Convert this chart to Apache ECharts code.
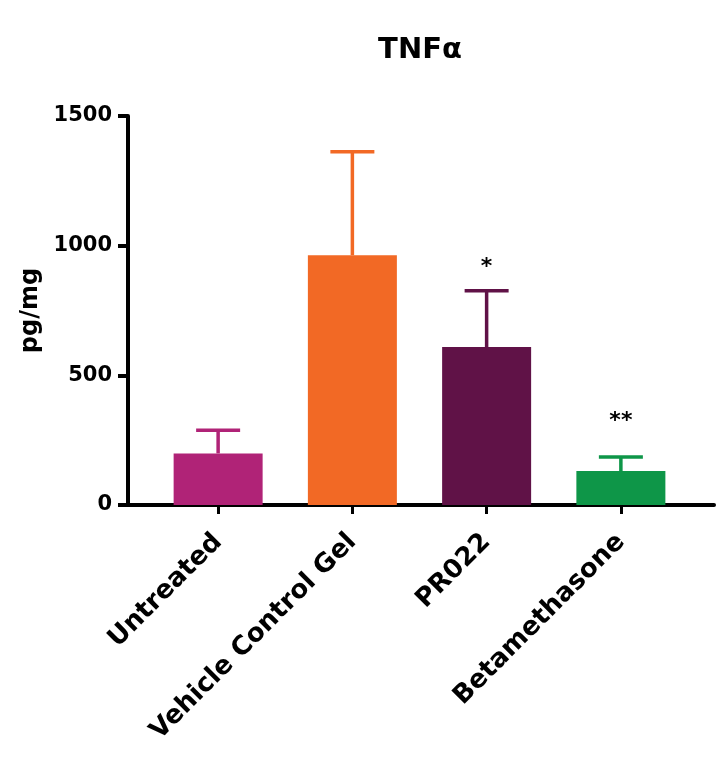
<!DOCTYPE html>
<html>
<head>
<meta charset="utf-8">
<script src="https://cdn.jsdelivr.net/npm/echarts@6/dist/echarts.min.js"></script>
<style>
html,body{margin:0;padding:0;background:#fff;}
#chart{width:728px;height:767px;}
</style>
</head>
<body>
<div id="chart"></div>
<script>
// ---- data ----
const categories = ['Untreated', 'Vehicle Control Gel', 'PR022', 'Betamethasone'];
const means = [199, 963, 609, 131];
const errors = [89, 399, 217, 54];
const sigLabels = ['', '', '*', '**'];
const sigLevels = [0, 0, 918, 321];
const barColors = ['#B02377', '#F26925', '#601247', '#0E9648'];
const yTicks = [0, 500, 1000, 1500];

const FONT = 'DejaVu Sans';
const chart = echarts.init(document.getElementById('chart'), null, {renderer: 'canvas'});

const option = {
  animation: false,
  backgroundColor: '#ffffff',
  title: {
    text: 'TNFα',
    left: 415,
    top: 31,
    textAlign: 'center',
    textStyle: {fontFamily: FONT, fontWeight: 'bold', fontSize: 29, color: '#000'}
  },
  grid: [
    {left: 151, right: 40, top: 116, bottom: 262, containLabel: false},
    {left: 128, right: 14, top: 116, bottom: 262, containLabel: false}
  ],
  xAxis: [
    {
      type: 'category', gridIndex: 0, data: categories,
      axisLine: {show: false},
      axisTick: {show: true, alignWithLabel: true, length: 9, lineStyle: {color: '#000', width: 3}},
      axisLabel: {
        rotate: 45, interval: 0, margin: 33, color: '#000',
        fontFamily: FONT, fontWeight: 'bold', fontSize: 26
      }
    },
    {
      type: 'value', gridIndex: 1, min: 0, max: 1,
      axisLine: {show: true, lineStyle: {color: '#000', width: 4}},
      axisTick: {show: false}, axisLabel: {show: false}, splitLine: {show: false}
    }
  ],
  yAxis: [
    {
      type: 'value', gridIndex: 0, min: yTicks[0], max: yTicks[yTicks.length - 1], interval: 500,
      offset: 23,
      name: 'pg/mg', nameLocation: 'middle', nameGap: 85, nameRotate: 90,
      nameTextStyle: {fontFamily: FONT, fontWeight: 'bold', fontSize: 24, color: '#000'},
      axisLine: {show: true, onZero: false, lineStyle: {color: '#000', width: 4}},
      axisTick: {show: true, length: 10, lineStyle: {color: '#000', width: 4}},
      axisLabel: {margin: 16, color: '#000', fontFamily: FONT, fontWeight: 'bold', fontSize: 21,
                  formatter: function (v) { return String(v); }},
      splitLine: {show: false}
    },
    {
      type: 'value', gridIndex: 1, min: 0, max: 1500, show: false
    }
  ],
  series: [
    {
      type: 'bar', xAxisIndex: 0, yAxisIndex: 0,
      barWidth: 89,
      data: means.map((v, i) => ({value: v, itemStyle: {color: barColors[i]}})),
      z: 3
    },
    {
      type: 'custom', xAxisIndex: 0, yAxisIndex: 0,
      data: means.map((v, i) => [i, v, v + errors[i]]),
      renderItem: function (params, api) {
        const i = api.value(0);
        const base = api.coord([i, api.value(1)]);
        const top = api.coord([i, api.value(2)]);
        const half = 22;
        const col = barColors[i];
        return {
          type: 'group',
          children: [
            {type: 'line', shape: {x1: base[0], y1: base[1], x2: top[0], y2: top[1]},
             style: {stroke: col, lineWidth: 3.5}},
            {type: 'line', shape: {x1: top[0] - half, y1: top[1], x2: top[0] + half, y2: top[1]},
             style: {stroke: col, lineWidth: 3.5}}
          ]
        };
      },
      z: 4
    },
    {
      type: 'custom', xAxisIndex: 0, yAxisIndex: 0,
      data: sigLevels.map((v, i) => [i, v]),
      renderItem: function (params, api) {
        const i = api.value(0);
        if (!sigLabels[i]) return null;
        const p = api.coord([i, api.value(1)]);
        return {
          type: 'text',
          style: {
            x: p[0], y: p[1], text: sigLabels[i],
            align: 'center', verticalAlign: 'middle',
            font: 'bold 22px "DejaVu Sans"', fill: '#000'
          }
        };
      },
      z: 5
    }
  ]
};
chart.setOption(option);
</script>
</body>
</html>
